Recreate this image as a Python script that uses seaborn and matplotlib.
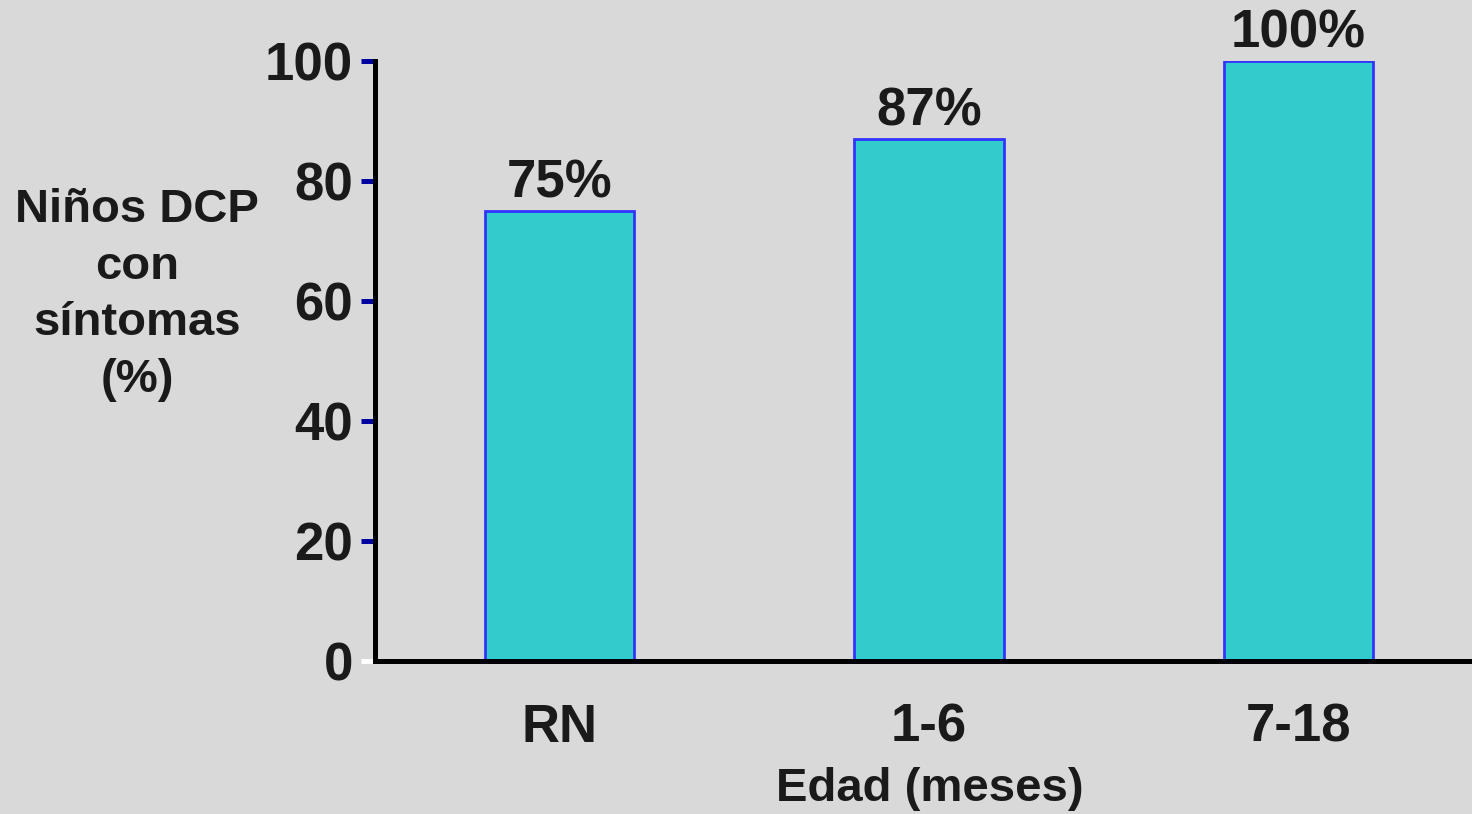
import matplotlib
matplotlib.use("Agg")
import matplotlib.pyplot as plt
import seaborn as sns
import pandas as pd

# Data
age_groups = ["RN", "1-6", "7-18"]
symptom_pct = [75, 87, 100]
bar_labels = ["75%", "87%", "100%"]
y_ticks = [0, 20, 40, 60, 80, 100]

BG = "#d9d9d9"
TXT = "#1a1a1a"
FS_TICK = 38
FS_LABEL = 34

sns.set_theme(style="white")
plt.rcParams["font.family"] = ["Liberation Sans", "DejaVu Sans"]
plt.rcParams["font.weight"] = "bold"

fig = plt.figure(figsize=(14.72, 8.14), dpi=100, facecolor=BG)
ax = fig.add_axes([375 / 1472, 1 - 661 / 814, 1 - 375 / 1472, (661 - 61) / 814])
ax.set_facecolor(BG)

df = pd.DataFrame({"edad": age_groups, "pct": symptom_pct})
sns.barplot(data=df, x="edad", y="pct", ax=ax, color="#33cccc", saturation=1,
            edgecolor="#3333ff", linewidth=2, width=0.405)

ax.set_xlim(-0.5, 2.47)
ax.set_ylim(0, 100)
ax.set_yticks(y_ticks)
ax.set_yticklabels([str(v) for v in y_ticks], fontsize=FS_TICK, fontweight="bold", color=TXT)
ax.set_xticks(range(len(age_groups)))
ax.set_xticklabels(age_groups, fontsize=FS_TICK, fontweight="bold", color=TXT)
ax.set_xlabel("")
ax.set_ylabel("")

for side in ["top", "right"]:
    ax.spines[side].set_visible(False)
for side in ["left", "bottom"]:
    ax.spines[side].set_color("black")
    ax.spines[side].set_linewidth(3.6)
    ax.spines[side].set_zorder(3)

ax.tick_params(axis="y", direction="out", length=10, width=3.6, color="#0000a0", pad=6, left=True)
ax.tick_params(axis="x", length=0, pad=30)

for i, (v, lab) in enumerate(zip(symptom_pct, bar_labels)):
    ax.annotate(lab, xy=(i, v), xytext=(0, 10), textcoords="offset points",
                ha="center", va="baseline", fontsize=FS_TICK, fontweight="bold",
                color=TXT, annotation_clip=False)

fig.text(930 / 1472, 1 - 789 / 814, "Edad (meses)", ha="center", va="center",
         fontsize=FS_LABEL, fontweight="bold", color=TXT)
fig.text(137 / 1472, 1 - 295 / 814, "Niños DCP\ncon\nsíntomas\n(%)", ha="center",
         va="center", multialignment="center", fontsize=FS_LABEL, fontweight="bold",
         color=TXT, linespacing=1.37)

# the tick at zero is drawn in white
fig.canvas.draw()
for tick in ax.yaxis.get_major_ticks():
    if abs(tick.get_loc()) < 1e-9:
        tick.tick1line.set_color("white")
        tick.tick1line.set_markeredgecolor("white")

fig.savefig("out.png", dpi=100, facecolor=BG)
